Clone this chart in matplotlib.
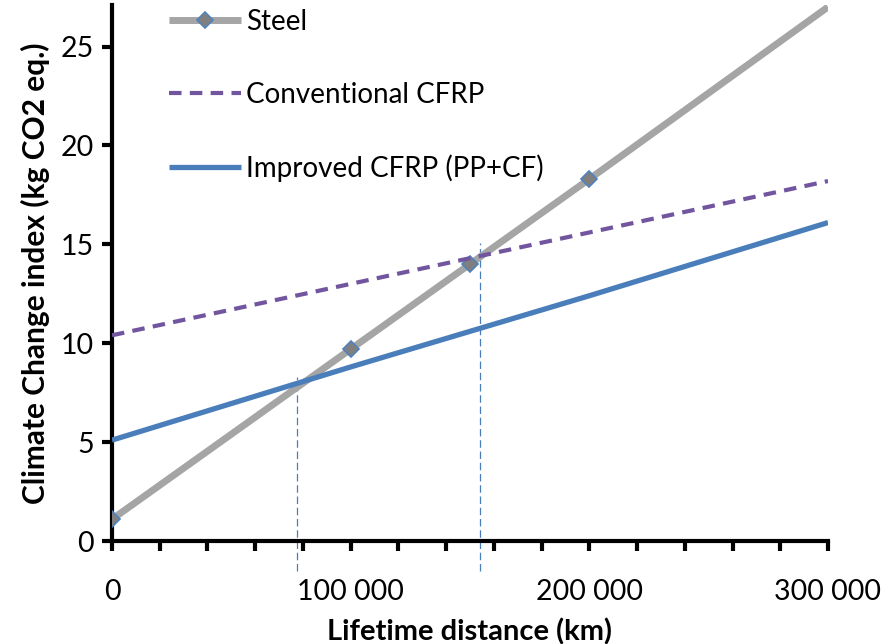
import matplotlib
matplotlib.use("Agg")
import matplotlib.pyplot as plt
from matplotlib.ticker import MultipleLocator, FuncFormatter

plt.rcParams['font.family'] = ['Lato', 'DejaVu Sans']

distance = [0, 100000, 150000, 200000, 300000]
steel = [1.1, 9.7, 14.0, 18.3, 27.0]
conventional = [10.4, 13.0, 14.3, 15.6, 18.2]
improved = [5.1, 8.8, 10.6, 12.4, 16.1]
crossings = [77500, 154300]
crossing_tops = [8.3, 15.05]

fig = plt.figure(figsize=(8.83, 6.44), dpi=100)
ax = fig.add_axes([112/883, 1-541/644, (828-112)/883, (541-5)/644])

ax.plot(distance, steel, color='#A5A5A5', lw=5, solid_capstyle='butt',
        marker='D', markevery=[0, 1, 2, 3], markersize=8,
        markerfacecolor='#7F7F7F', markeredgecolor='#4F81BD', markeredgewidth=1.2,
        label='Steel', zorder=3)
ax.plot(distance, conventional, color='#71559E', lw=3, ls=(0, (3, 2)),
        label='Conventional CFRP', zorder=3)
ax.plot(distance, improved, color='#4A7EBB', lw=3.8, solid_capstyle='butt',
        label='Improved CFRP (PP+CF)', zorder=3)

for xc, top in zip(crossings, crossing_tops):
    ax.plot([xc, xc], [-1.5, top], color='#4A7EBB', lw=0.9, ls=(0, (6, 3)),
            clip_on=False, zorder=2)

ax.set_xlim(0, 300000)
ax.set_ylim(0, 27.1)

for s in ['top', 'right']:
    ax.spines[s].set_visible(False)
for s in ['left', 'bottom']:
    ax.spines[s].set_linewidth(3)

ax.xaxis.set_major_locator(MultipleLocator(20000))
ax.xaxis.set_major_formatter(FuncFormatter(
    lambda v, p: (f"{int(v):,}".replace(',', ' ') if int(round(v)) % 100000 == 0 else '')))
ax.yaxis.set_major_locator(MultipleLocator(5))
ax.tick_params(axis='x', direction='out', length=7, width=3, labelsize=20.5, pad=20)
ax.tick_params(axis='y', direction='out', length=7, width=3, labelsize=20.5, pad=6)

ax.set_xlabel('Lifetime distance (km)', fontsize=21, fontweight='bold', labelpad=10)
ax.set_ylabel('Climate Change index (kg CO2 eq.)', fontsize=21.5, fontweight='bold', labelpad=8)

leg = ax.legend(loc='upper left', bbox_to_anchor=(0.045, 1.04), frameon=False,
                fontsize=20, labelspacing=1.69, handlelength=2.6, handletextpad=0.15)

fig.savefig('out.png', dpi=100)
